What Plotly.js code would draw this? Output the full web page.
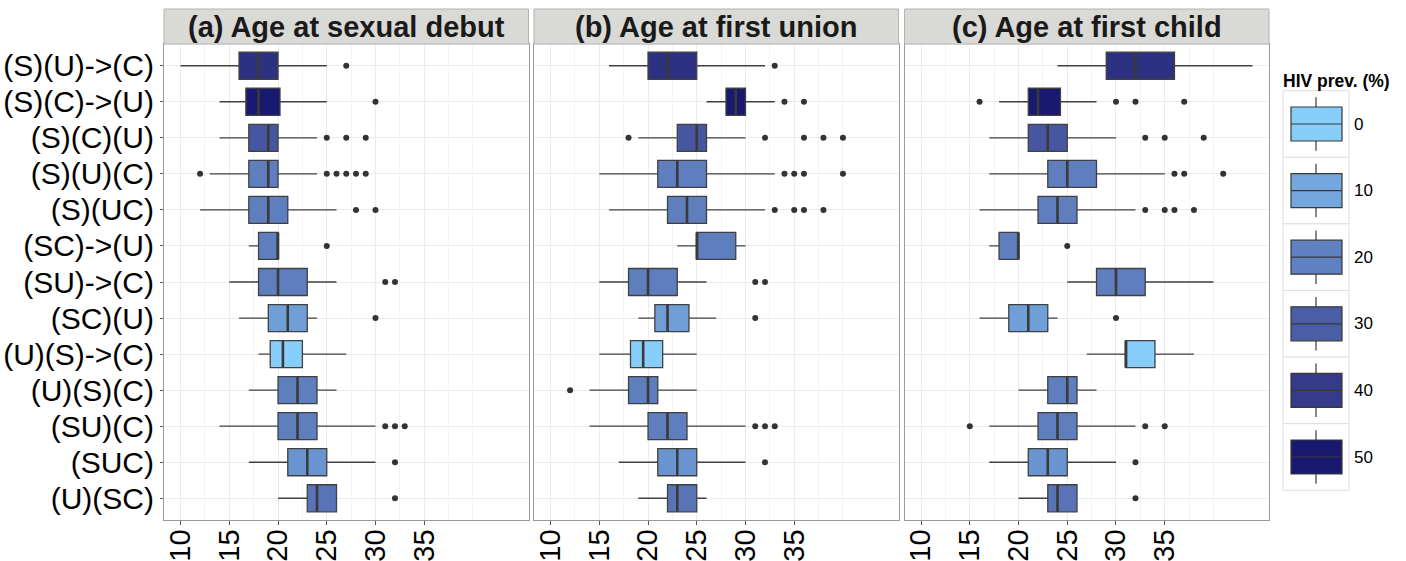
<!DOCTYPE html>
<html>
<head>
<meta charset="utf-8">
<script src="https://cdn.plot.ly/plotly-3.0.1.min.js"></script>
<style>html,body{margin:0;padding:0;background:#fff;}#chart{width:1406px;height:561px;}</style>
</head>
<body>
<div id="chart"></div>
<script>
// ---------- DATA ----------
const categories = ["(S)(U)->(C)", "(S)(C)->(U)", "(S)(C)(U)", "(S)(U)(C)", "(S)(UC)", "(SC)->(U)",
  "(SU)->(C)", "(SC)(U)", "(U)(S)->(C)", "(U)(S)(C)", "(SU)(C)", "(SUC)", "(U)(SC)"];
const hivPrev = [43, 50, 32, 21, 21, 21, 21, 12, 0, 21, 21, 15, 24];

const panelTitles = ["(a) Age at sexual debut", "(b) Age at first union", "(c) Age at first child"];

// (a) Age at sexual debut
const debutLow = [10, 14, 14, 13, 12, 17, 15, 16, 18, 17, 14, 17, 20];
const debutQ1 = [16, 16.7, 17, 17, 17, 18, 18, 19, 19.2, 20, 20, 21, 23];
const debutMed = [18, 18, 19, 19, 19, 20, 20, 21, 20.5, 22, 22, 23, 24];
const debutQ3 = [20, 20.2, 20, 20, 21, 20, 23, 23, 22.5, 24, 24, 25, 26];
const debutHigh = [25, 25, 24, 24, 26, 20, 26, 24, 27, 26, 30, 30, 26];
const debutOut = [[27], [30], [25, 27, 29], [12, 25, 26, 27, 28, 29], [28, 30], [25], [31, 32], [30], [], [], [31, 32, 33], [32], [32]];

// (b) Age at first union
const unionLow = [16, 26, 19, 15, 16, 23, 15, 19, 15, 14, 14, 17, 19];
const unionQ1 = [20, 28, 23, 21, 22, 25, 18, 20.7, 18.2, 18, 20, 21, 22];
const unionMed = [22, 29, 25, 23, 24, 25, 20, 22, 19.5, 20, 22, 23, 23];
const unionQ3 = [25, 30, 26, 26, 26, 29, 23, 24.2, 21.5, 21, 24, 25, 25];
const unionHigh = [32, 33, 30, 33, 32, 30, 26, 27, 25, 25, 30, 30, 26];
const unionOut = [[33], [34, 36], [18, 32, 36, 38, 40], [34, 35, 36, 40], [33, 35, 36, 38], [], [31, 32], [31], [], [12], [31, 32, 33], [32], []];

// (c) Age at first child
const childLow = [24, 18, 17, 17, 16, 17, 25, 16, 27, 20, 17, 17, 20];
const childQ1 = [29, 21, 21, 23, 22, 18, 28, 19, 31, 23, 22, 21, 23];
const childMed = [32, 22, 23, 25, 24, 20, 30, 21, 31, 25, 24, 23, 24];
const childQ3 = [36, 24.3, 25, 28, 26, 20, 33, 23, 34, 26, 26, 25, 26];
const childHigh = [44, 28, 30, 35, 32, 20, 40, 24, 38, 28, 32, 30, 26];
const childOut = [[], [16, 30, 32, 37], [33, 35, 39], [36, 37, 41], [33, 35, 36, 38], [25], [], [30], [], [], [15, 33, 35], [32], [32]];

const xTicks = [10, 15, 20, 25, 30, 35];
const legendValues = [0, 10, 20, 30, 40, 50];
const legendTitle = "HIV prev. (%)";

// ---------- COLOUR SCALE (Lab interpolation like ggplot gradient) ----------
const lowCol = "#87CEFA", highCol = "#191970", scaleMin = 0, scaleMax = 50;
function hexToRgb(h){h=h.replace('#','');return [0,2,4].map(i=>parseInt(h.substr(i,2),16)/255);}
function toLab(hex){
  const c=hexToRgb(hex).map(v=>v<=0.04045?v/12.92:Math.pow((v+0.055)/1.055,2.4));
  const X=(0.4124564*c[0]+0.3575761*c[1]+0.1804375*c[2])/0.95047;
  const Y=(0.2126729*c[0]+0.7151522*c[1]+0.0721750*c[2]);
  const Z=(0.0193339*c[0]+0.1191920*c[1]+0.9503041*c[2])/1.08883;
  const f=t=>t>0.008856?Math.cbrt(t):7.787*t+16/116;
  const fx=f(X),fy=f(Y),fz=f(Z);
  return [116*fy-16,500*(fx-fy),200*(fy-fz)];
}
function fromLab(L,a,b){
  const fy=(L+16)/116,fx=fy+a/500,fz=fy-b/200;
  const inv=t=>{const t3=t*t*t;return t3>0.008856?t3:(t-16/116)/7.787;};
  const X=0.95047*inv(fx),Y=inv(fy),Z=1.08883*inv(fz);
  let r=3.2404542*X-1.5371385*Y-0.4985314*Z;
  let g=-0.9692660*X+1.8760108*Y+0.0415560*Z;
  let bb=0.0556434*X-0.2040259*Y+1.0572252*Z;
  const gam=v=>{v=v<=0.0031308?12.92*v:1.055*Math.pow(v,1/2.4)-0.055;return Math.round(Math.min(1,Math.max(0,v))*255);};
  return 'rgb('+gam(r)+','+gam(g)+','+gam(bb)+')';
}
const labLo=toLab(lowCol), labHi=toLab(highCol);
function colourFor(v){
  const t=Math.min(1,Math.max(0,(v-scaleMin)/(scaleMax-scaleMin)));
  return fromLab(labLo[0]+t*(labHi[0]-labLo[0]),labLo[1]+t*(labHi[1]-labLo[1]),labLo[2]+t*(labHi[2]-labLo[2]));
}

// ---------- TRACES ----------
const panels = [
  {low:debutLow,q1:debutQ1,med:debutMed,q3:debutQ3,high:debutHigh,out:debutOut},
  {low:unionLow,q1:unionQ1,med:unionMed,q3:unionQ3,high:unionHigh,out:unionOut},
  {low:childLow,q1:childQ1,med:childMed,q3:childQ3,high:childHigh,out:childOut}
];
const boxW = 0.75;
const traces = [];
panels.forEach((p, pi) => {
  const xa = pi === 0 ? 'x' : 'x' + (pi + 1);
  const ya = pi === 0 ? 'y' : 'y' + (pi + 1);
  categories.forEach((c, i) => {
    traces.push({
      type: 'box', orientation: 'h', xaxis: xa, yaxis: ya,
      y: [i], q1: [p.q1[i]], median: [p.med[i]], q3: [p.q3[i]],
      lowerfence: [p.low[i]], upperfence: [p.high[i]],
      width: boxW, whiskerwidth: 0,
      fillcolor: colourFor(hivPrev[i]),
      line: {color: '#404040', width: 1.3},
      boxpoints: false, hoverinfo: 'skip', showlegend: false
    });
  });
  // thicker medians
  const mx = [], my = [];
  categories.forEach((c, i) => { mx.push(p.med[i], p.med[i], null); my.push(i - boxW / 2, i + boxW / 2, null); });
  traces.push({type: 'scatter', mode: 'lines', xaxis: xa, yaxis: ya, x: mx, y: my,
    line: {color: '#3a3a3a', width: 2.6}, hoverinfo: 'skip', showlegend: false});
  // outliers
  const ox = [], oy = [];
  p.out.forEach((arr, i) => arr.forEach(v => { ox.push(v); oy.push(i); }));
  traces.push({type: 'scatter', mode: 'markers', xaxis: xa, yaxis: ya, x: ox, y: oy,
    marker: {color: '#333333', size: 6}, hoverinfo: 'skip', showlegend: false});
});

// ---------- LAYOUT ----------
const W = 1406, H = 561;
const px = v => v / W, py = v => 1 - v / H;
const panelLeft = [164, 534, 904.5], panelWidth = 364.5;
const plotTop = 44.1, plotBottom = 519.9, stripTop = 9;
const font = '"Liberation Sans", Arial, Helvetica, sans-serif';

const layout = {
  width: W, height: H, margin: {l: 0, r: 0, t: 0, b: 0},
  paper_bgcolor: '#ffffff', plot_bgcolor: '#ffffff',
  showlegend: false, boxmode: 'overlay',
  font: {family: font, color: '#000'},
  shapes: [], annotations: []
};
panels.forEach((p, pi) => {
  const sfx = pi === 0 ? '' : String(pi + 1);
  layout['xaxis' + sfx] = {
    domain: [px(panelLeft[pi]), px(panelLeft[pi] + panelWidth)],
    anchor: 'y' + sfx, range: [8.3, 45.7], tickvals: xTicks, ticktext: xTicks.map(String),
    tickangle: -90, tickfont: {size: 29, color: '#000', family: font},
    ticks: 'outside', ticklen: 4, tickcolor: '#555', tickwidth: 1,
    ticklabelstandoff: -7,
    showgrid: true, gridcolor: '#ececec', gridwidth: 1,
    minor: {tickvals: [12.5, 17.5, 22.5, 27.5, 32.5, 37.5, 40], showgrid: true, gridcolor: '#f4f4f4', gridwidth: 1, ticks: ''},
    showline: true, mirror: true, linecolor: '#9a9a9a', linewidth: 1,
    zeroline: false, fixedrange: true
  };
  layout['yaxis' + sfx] = {
    domain: [py(plotBottom), py(plotTop)], anchor: 'x' + sfx,
    range: [12.6, -0.6], tickvals: categories.map((c, i) => i), ticktext: categories,
    showticklabels: pi === 0, tickfont: {size: 30, color: '#000', family: font},
    ticks: pi === 0 ? 'outside' : '', ticklen: 3, tickcolor: '#555',
    showgrid: true, gridcolor: '#ececec', gridwidth: 1,
    showline: true, mirror: true, linecolor: '#9a9a9a', linewidth: 1,
    zeroline: false, fixedrange: true
  };
  // strip
  layout.shapes.push({type: 'rect', xref: 'paper', yref: 'paper',
    x0: px(panelLeft[pi]), x1: px(panelLeft[pi] + panelWidth), y0: py(plotTop), y1: py(stripTop),
    fillcolor: '#d9d9d6', line: {color: '#b3b3b3', width: 1}, layer: 'above'});
  layout.annotations.push({xref: 'paper', yref: 'paper', x: px(panelLeft[pi] + panelWidth / 2), y: py((stripTop + plotTop) / 2 + 0.5),
    text: '<b>' + panelTitles[pi] + '</b>', showarrow: false, xanchor: 'center', yanchor: 'middle',
    font: {size: 29, color: '#1a1a1a', family: font}});
});

// legend
const legX0 = 1283, legX1 = 1349, legTop = 90.7, cellH = 66.6;
layout.annotations.push({xref: 'paper', yref: 'paper', x: px(legX0 - 2), y: py(81), text: '<b>' + legendTitle + '</b>',
  showarrow: false, xanchor: 'left', yanchor: 'middle', font: {size: 17.5, color: '#000', family: font}});
legendValues.forEach((v, k) => {
  const top = legTop + k * cellH, mid = top + cellH / 2, cx = (legX0 + legX1) / 2;
  layout.shapes.push({type: 'rect', xref: 'paper', yref: 'paper', x0: px(legX0), x1: px(legX1), y0: py(top + cellH), y1: py(top),
    fillcolor: '#ffffff', line: {color: '#dedede', width: 1}});
  layout.shapes.push({type: 'line', xref: 'paper', yref: 'paper', x0: px(cx), x1: px(cx), y0: py(top + 6.5), y1: py(top + 60),
    line: {color: '#383838', width: 1.2}});
  layout.shapes.push({type: 'rect', xref: 'paper', yref: 'paper', x0: px(legX0 + 8), x1: px(legX1 - 7), y0: py(mid + 17), y1: py(mid - 17),
    fillcolor: colourFor(v), line: {color: '#383838', width: 1.2}});
  layout.shapes.push({type: 'line', xref: 'paper', yref: 'paper', x0: px(legX0 + 8), x1: px(legX1 - 7), y0: py(mid), y1: py(mid),
    line: {color: '#383838', width: 1.2}});
  layout.annotations.push({xref: 'paper', yref: 'paper', x: px(1352), y: py(mid), text: String(v), showarrow: false,
    xanchor: 'left', yanchor: 'middle', font: {size: 17, color: '#000', family: font}});
});

Plotly.newPlot('chart', traces, layout, {staticPlot: true, displayModeBar: false});
</script>
</body>
</html>
